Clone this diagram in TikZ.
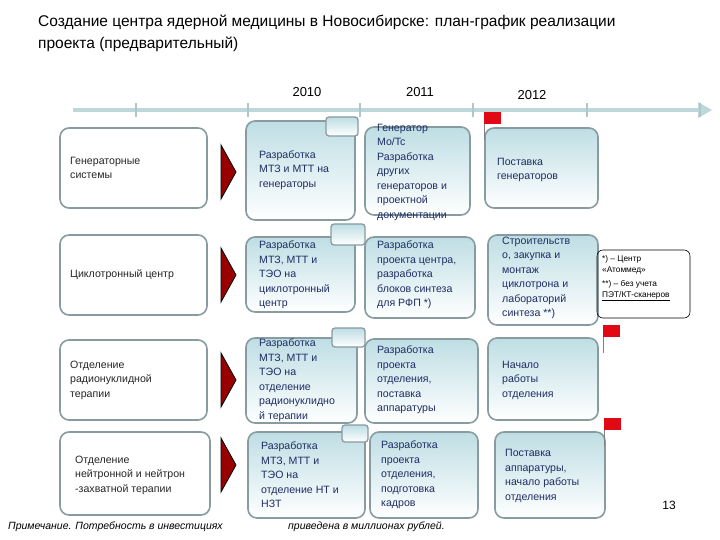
\documentclass[tikz,border=0pt]{standalone}
\usepackage{fontspec}
\setmainfont{Liberation Sans}
\usetikzlibrary{arrows.meta}
\definecolor{bord}{RGB}{135,155,160}
\definecolor{lb}{RGB}{190,222,228}
\definecolor{tl}{RGB}{190,215,218}
\definecolor{fl}{RGB}{225,10,20}
\definecolor{bt}{RGB}{30,45,100}
\tikzset{
 lbox/.style={draw=bord,line width=1.6pt,rounded corners=9pt,fill=white},
 cbox/.style={draw=bord,line width=1.6pt,rounded corners=9pt,top color=lb,bottom color=white},
 tabb/.style={draw=bord,line width=1.3pt,rounded corners=3pt,top color=lb,bottom color=white},
 txt/.style={font=\fontsize{10.6}{14.5}\selectfont,align=left,anchor=west,inner sep=0pt,text=black!85},
 btxt/.style={font=\fontsize{10.6}{14.5}\selectfont,align=left,anchor=west,inner sep=0pt,text=bt},
 tri/.style={fill=red!60!black,draw=black,line width=0.8pt},
 yr/.style={font=\fontsize{13}{15}\selectfont},
}
\begin{document}
\begin{tikzpicture}[x=1pt,y=-1pt]
\useasboundingbox (0,0) rectangle (720,540);
\node[anchor=north west,align=left,inner sep=0pt,font=\fontsize{15.5}{22}\selectfont] (title) at (38,15) {Создание центра ядерной медицины в Новосибирске: план-график реализации\\проекта (предварительный)};
% timeline
\draw[tl,line width=4pt] (73,110) -- (700,110);
\fill[tl] (698,102) -- (712,110) -- (698,118) -- cycle;
\foreach \x in {136,248,360,473,587,700}{\draw[tl!80!gray,line width=2.5pt] (\x,103) -- (\x,117);}
\node[yr] (y0) at (307,92) {2010};
\node[yr] (y1) at (420,92) {2011};
\node[yr] (y2) at (532,95) {2012};
% left boxes
\draw[lbox] (60,128) rectangle (207,208);
\draw[lbox] (60,235) rectangle (207,315);
\draw[lbox] (60,340) rectangle (207,420);
\draw[lbox] (60,432) rectangle (210,515);
\node[txt] (l1) at (70,168) {Генераторные\\системы};
\node[txt] (l2) at (70,275) {Циклотронный центр};
\node[txt] (l3) at (70,380) {Отделение\\радионуклидной\\терапии};
\node[txt] (l4) at (75,475) {Отделение\\нейтронной и нейтрон\\-захватной терапии};
% arrows
\foreach \y in {172,275,380,465}{\draw[tri] (221,\y-27) -- (236,\y) -- (221,\y+27) -- cycle;}
% col boxes
\draw[cbox] (246,121) rectangle (355,220);
\draw[cbox] (365,127) rectangle (470,215);
\draw[cbox] (485,128) rectangle (598,208);
\draw[cbox] (246,237) rectangle (355,312);
\draw[cbox] (365,237) rectangle (475,318);
\draw[cbox] (488,235) rectangle (598,325);
\draw[cbox] (246,338) rectangle (357,423);
\draw[cbox] (365,339) rectangle (478,423);
\draw[cbox] (488,338) rectangle (598,420);
\draw[cbox] (248,432) rectangle (365,518);
\draw[cbox] (370,432) rectangle (478,518);
\draw[cbox] (495,432) rectangle (605,518);
% tabs
\draw[tabb] (326,117) rectangle (358,136);
\draw[tabb] (331,224) rectangle (365,245);
\draw[tabb] (332,328) rectangle (365,347);
\draw[tabb] (342,425) rectangle (368,442);
% flags
\foreach \x/\y in {484/112,603/325,604/418}{
 \draw[gray,line width=0.6pt] (\x,\y) -- (\x,\y+28);
 \fill[fl] (\x,\y) rectangle (\x+17,\y+12);}
% texts
\node[btxt] (c11) at (259,170) {Разработка\\МТЗ и МТТ на\\генераторы};
\node[btxt] (c12) at (377,172) {Генератор\\Mo/Tc\\Разработка\\других\\генераторов и\\проектной\\документации};
\node[btxt] (c13) at (497,170) {Поставка\\генераторов};
\node[btxt] (c21) at (259,275) {Разработка\\МТЗ, МТТ и\\ТЭО на\\циклотронный\\центр};
\node[btxt] (c22) at (377,275) {Разработка\\проекта центра,\\разработка\\блоков синтеза\\для РФП *)};
\node[btxt] (c23) at (502,278) {Строительств\\о, закупка и\\монтаж\\циклотрона и\\лабораторий\\синтеза **)};
\node[btxt] (c31) at (259,380) {Разработка\\МТЗ, МТТ и\\ТЭО на\\отделение\\радионуклидно\\й терапии};
\node[btxt] (c32) at (377,380) {Разработка\\проекта\\отделения,\\поставка\\аппаратуры};
\node[btxt] (c33) at (502,380) {Начало\\работы\\отделения};
\node[btxt] (c41) at (261,475) {Разработка\\МТЗ, МТТ и\\ТЭО на\\отделение НТ и\\НЗТ};
\node[btxt] (c42) at (381,475) {Разработка\\проекта\\отделения,\\подготовка\\кадров};
\node[btxt] (c43) at (505,476) {Поставка\\аппаратуры,\\начало работы\\отделения};
% footnote box
\draw[rounded corners=6pt,line width=0.6pt] (597,250) rectangle (690,318);
\node[anchor=north west,align=left,inner sep=0pt,font=\fontsize{8.3}{11}\selectfont] (fn) at (602,255) {*) – Центр\\«Атоммед»\\[3pt]**) – без учета\\\underline{ПЭТ/КТ-сканеров}};
\node[font=\fontsize{12}{14}\selectfont] (pg) at (669,505) {13};
\node[anchor=west,inner sep=0pt,font=\fontsize{10.5}{12}\selectfont\itshape] (n1) at (8,527) {Примечание. Потребность в инвестициях};
\node[anchor=west,inner sep=0pt,font=\fontsize{10.5}{12}\selectfont\itshape] (n2) at (288,527) {приведена в миллионах рублей.};
\end{tikzpicture}
\end{document}
